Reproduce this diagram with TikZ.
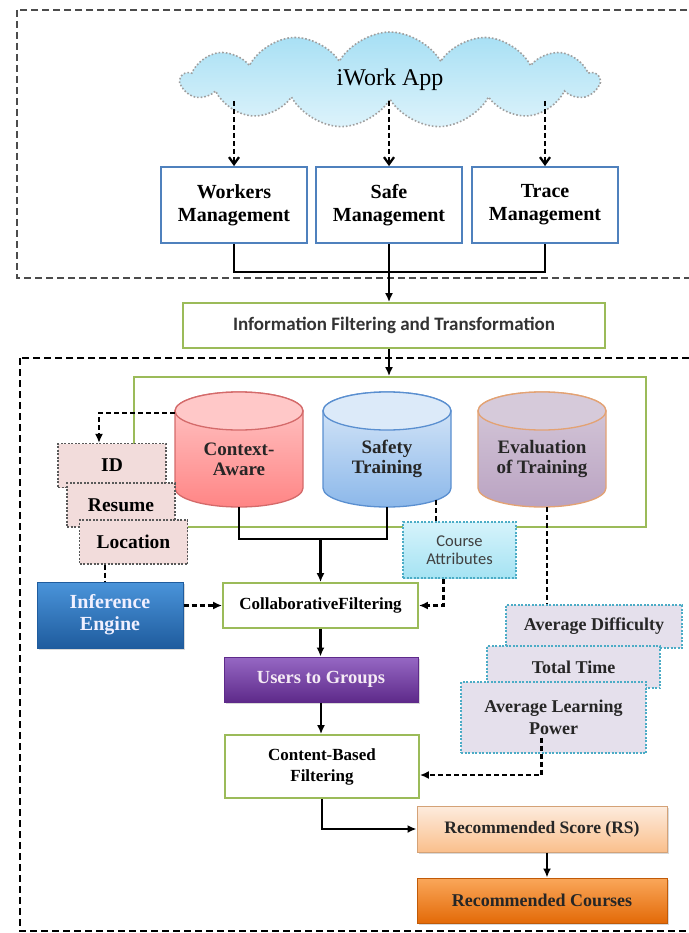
\documentclass[tikz,border=0pt]{standalone}
\usepackage{fontspec}
\setmainfont{Liberation Serif}
\newfontfamily\calibrifont{Carlito}
\usetikzlibrary{shapes.symbols, arrows.meta, positioning, shadows}

\definecolor{mgblue}{HTML}{4F81BD}
\definecolor{lgreen}{HTML}{9BBB59}
\definecolor{cloudtop}{HTML}{A6DFF4}
\definecolor{cloudbot}{HTML}{DDF3FB}
\definecolor{idpink}{HTML}{F2DCDB}
\definecolor{attrcyan}{HTML}{4BACC6}
\definecolor{attrtop}{HTML}{D6F3FB}
\definecolor{attrbot}{HTML}{A5E3F3}
\definecolor{lavender}{HTML}{E5E0EC}
\definecolor{ietop}{HTML}{4A94DA}
\definecolor{iebot}{HTML}{1F5C9E}
\definecolor{ugtop}{HTML}{9668C4}
\definecolor{ugbot}{HTML}{5E2A8A}
\definecolor{rstop}{HTML}{FDECDE}
\definecolor{rsbot}{HTML}{FABF8C}
\definecolor{rctop}{HTML}{FAA75A}
\definecolor{rcbot}{HTML}{E36A08}
\definecolor{ctxtop}{HTML}{FFC8C8}
\definecolor{ctxbot}{HTML}{FF8585}
\definecolor{ctxedge}{HTML}{D46A6A}
\definecolor{safetop}{HTML}{DCEAF9}
\definecolor{safebot}{HTML}{8CB8EA}
\definecolor{safeedge}{HTML}{5A8FD0}
\definecolor{evaltop}{HTML}{D6CADA}
\definecolor{evalbot}{HTML}{BAA3C2}
\definecolor{evaledge}{HTML}{E3A273}

\tikzset{
  every node/.style={font=\fontsize{18}{20}\selectfont\bfseries, align=center, inner sep=2pt},
  frame/.style={dash pattern=on 7pt off 4pt, line width=1.6pt},
  mgmt/.style={draw=mgblue, line width=1.8pt, fill=white, minimum width=146pt, minimum height=76pt,
    font=\fontsize{20}{23}\selectfont\bfseries},
  greenbox/.style={draw=lgreen, line width=1.8pt, fill=white},
  userbox/.style={draw=black!65, dash pattern=on 2pt off 1.5pt, line width=1.1pt, fill=idpink,
    minimum width=108pt, minimum height=44pt, font=\fontsize{19.5}{21}\selectfont\bfseries},
  metricbox/.style={draw=attrcyan, dash pattern=on 2pt off 1.5pt, line width=1.1pt, fill=lavender,
    font=\fontsize{18}{22}\selectfont\bfseries, text=black!85},
  ibox/.style={line width=1pt, minimum width=250pt, minimum height=46pt,
    drop shadow={opacity=0.3, shadow xshift=2pt, shadow yshift=-2pt}},
  conn/.style={line width=2.3pt},
  arrow/.style={conn, -{Latex[length=9pt, width=8pt]}},
  dashline/.style={line width=2.3pt, dash pattern=on 5pt off 3pt},
  dasharrow/.style={dashline, -{Latex[length=9pt, width=8pt]}},
  cloudarrow/.style={dashline, -{Straight Barb[length=7pt, width=10pt]}}
}

\begin{document}
\begin{tikzpicture}[x=1pt, y=-1pt]

    \def \rx {64} % cylinder radii
    \def \ry {19}

    \useasboundingbox (0,0) rectangle (688,933);

    % the two dashed frames
    \draw[frame, draw=black!70] (17,10) rectangle (700,278);
    \draw[frame] (20,358) rectangle (700,931);

    \node[cloud, cloud puffs=13, cloud puff arc=120, aspect=4.3, minimum width=417pt, minimum height=96pt,
          draw=gray!75, dotted, line width=1.6pt, top color=cloudtop, bottom color=cloudbot,
          font=\fontsize{24}{26}\selectfont] (app) at (390,80) {iWork App};

    \foreach \x/\name/\txt in {234/wm/{Workers\\Management}, 389/sm/{Safe\\Management}, 545/tm/{Trace\\Management}}
    {
      \node[mgmt] (\name) at (\x,205) {\txt};
      \draw[cloudarrow] (\name.north |- app.south) -- (\name.north);
    }

    \node[greenbox, minimum width=422pt, minimum height=45pt, text=black!80,
          font=\calibrifont\fontsize{19}{21}\selectfont\bfseries] (info) at (394,325.5)
          {Information Filtering and Transformation};

    \draw[conn] (wm.south) -- ++(0,28) -| (tm.south);
    \draw[arrow] (sm.south) -- (sm.south |- info.north);

    % data stores
    \node[greenbox, minimum width=512pt, minimum height=150pt] (store) at (390,452) {};
    \draw[arrow] (info.south -| sm) -- (store.north -| sm);

    \foreach \cx/\name/\ctop/\cbot/\cedge/\txt in {239/ca/ctxtop/ctxbot/ctxedge/{Context-\\Aware},
        387/st/safetop/safebot/safeedge/{Safety\\Training}, 542/ev/evaltop/evalbot/evaledge/{Evaluation\\of Training}}
    {
      \path[draw=\cedge, line width=1.3pt, top color=\ctop, bottom color=\cbot]
        (\cx-\rx, 411) -- (\cx-\rx, 488) arc[start angle=180, end angle=0, x radius=\rx, y radius=\ry]
        -- (\cx+\rx, 411) arc[start angle=0, end angle=-180, x radius=\rx, y radius=\ry] -- cycle;
      \path[draw=\cedge, line width=1.3pt, fill=\ctop] (\cx,411) ellipse [x radius=\rx, y radius=\ry];
      \node[minimum width=128pt, minimum height=115pt, inner sep=0pt] (\name) at (\cx,449.5) {};
      \node[text=black!85, font=\fontsize{19}{20}\selectfont\bfseries] at (\cx,459) {\txt};
    }

    \draw[conn] (ca.south) -- ++(0,32) -| (st.south);

    \foreach \x/\y/\name/\txt in {112/465.5/id/ID, 121/505/res/Resume, 133.5/542/loc/Location}
      \node[userbox] (\name) at (\x,\y) {\txt};

    \draw[dasharrow] (ca.north west) ++(0,21) -| ([xshift=-13pt]id.north);

    \node[ibox, minimum width=146pt, minimum height=66pt, top color=ietop, bottom color=iebot,
          draw=iebot, text=blue!6, font=\fontsize{20}{22}\selectfont\bfseries] (ie) at (110,615) {Inference\\Engine};
    \draw[dashline] ([xshift=-28.5pt]loc.south) -- ([xshift=-28.5pt]loc.south |- ie.north);

    \node[greenbox, minimum width=195pt, minimum height=45pt, font=\fontsize{17}{19}\selectfont\bfseries]
          (cf) at (320.5,605.5) {CollaborativeFiltering};
    \draw[arrow] ([yshift=-32pt]ca.south -| cf.north) -- (cf.north);
    \draw[dasharrow] (ie.east |- cf.west) -- (cf.west);

    \node[draw=attrcyan, dash pattern=on 2pt off 1.5pt, line width=1.1pt, top color=attrtop, bottom color=attrbot,
          minimum width=113pt, minimum height=56pt, text=black!75,
          font=\calibrifont\fontsize{16.5}{18}\selectfont] (attr) at (459.5,550) {Course\\Attributes};
    \draw[dashline] ([xshift=49pt, yshift=7pt]st.south) -- ([xshift=-23.5pt]attr.north);
    \draw[dasharrow] ([xshift=-16pt]attr.south) |- (cf.east);

    % evaluation metrics
    \foreach \x/\y/\w/\h/\name/\txt in {594/626.5/176/43/ad/{Average Difficulty}, 573.5/667/173/42/tt/{Total Time},
        553.5/717.5/185/71/alp/{Average Learning\\Power}}
      \node[metricbox, minimum width=\w pt, minimum height=\h pt] (\name) at (\x,\y) {\txt};
    \draw[dashline] ([xshift=5pt]ev.south) -- ([xshift=5pt]ev.south |- ad.north);

    \node[ibox, minimum width=194pt, minimum height=45pt, top color=ugtop, bottom color=ugbot, draw=ugbot,
          text=white!92!violet, font=\fontsize{18.5}{20}\selectfont\bfseries] (ug) at (321,679.5) {Users to Groups};
    \node[greenbox, minimum width=194pt, minimum height=63pt, font=\fontsize{17}{21}\selectfont\bfseries]
          (cbf) at (322,766.5) {Content-Based\\Filtering};
    \draw[arrow] (cf.south) -- (cf.south |- ug.north);
    \draw[arrow] (ug.south) -- (ug.south |- cbf.north);
    \draw[dasharrow] ([xshift=-12pt]alp.south) ++(0,-16) |- ([yshift=-8.5pt]cbf.east);

    % output
    \node[ibox, top color=rstop, bottom color=rsbot, draw=rsbot!85!black, text=black!85,
          font=\fontsize{17.5}{20}\selectfont\bfseries] (rs) at (542,829) {Recommended Score (RS)};
    \node[ibox, minimum height=45pt, top color=rctop, bottom color=rcbot, draw=rcbot!85!black, text=black!85]
          (rc) at (542,900.5) {Recommended Courses};
    \draw[arrow] (cbf.south) |- (rs.west);
    \draw[arrow] ([xshift=5pt]rs.south) -- ([xshift=5pt]rc.north);
\end{tikzpicture}
\end{document}
